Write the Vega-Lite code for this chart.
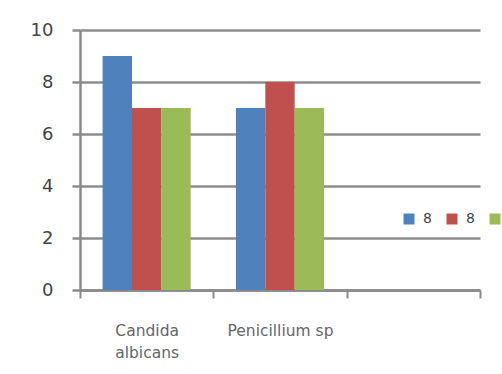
{
  "$schema": "https://vega.github.io/schema/vega-lite/v6.json",
  "width": 400,
  "height": 260,
  "autosize": {"type": "none"},
  "padding": {"left": 80, "top": 30, "right": 22, "bottom": 84},
  "background": "white",
  "data": {"values": [
    {"organism": "Candida albicans", "series": "s1", "value": 9},
    {"organism": "Candida albicans", "series": "s2", "value": 7},
    {"organism": "Candida albicans", "series": "s3", "value": 7},
    {"organism": "Penicillium sp", "series": "s1", "value": 7},
    {"organism": "Penicillium sp", "series": "s2", "value": 8},
    {"organism": "Penicillium sp", "series": "s3", "value": 7}
  ]},
  "mark": {"type": "bar"},
  "encoding": {
    "x": {
      "field": "organism", "type": "nominal",
      "scale": {"domain": ["Candida albicans", "Penicillium sp", "x3"], "paddingInner": 0, "paddingOuter": 0},
      "axis": {
        "title": null, "labelAngle": 0, "tickBand": "extent", "grid": false,
        "domainColor": "#8a8a8a", "domainWidth": 2.5,
        "tickColor": "#8a8a8a", "tickWidth": 2, "tickSize": 8,
        "labelPadding": 25, "labelFontSize": 15.5, "labelColor": "#666666",
        "labelFont": "DejaVu Sans", "labelLineHeight": 22, "labelBaseline": "top",
        "labelExpr": "datum.value == 'Candida albicans' ? ['Candida', 'albicans'] : datum.value == 'x3' ? '' : datum.value"
      }
    },
    "xOffset": {"field": "series", "type": "nominal", "scale": {"paddingOuter": 0.77, "paddingInner": 0}},
    "y": {
      "field": "value", "type": "quantitative",
      "scale": {"domain": [0, 10], "nice": false},
      "axis": {
        "title": null, "values": [0, 2, 4, 6, 8, 10], "grid": true,
        "gridColor": "#8c8c8c", "gridWidth": 2.5,
        "domainColor": "#8a8a8a", "domainWidth": 2.5,
        "tickColor": "#8a8a8a", "tickWidth": 2.5, "tickSize": 8,
        "labelFontSize": 18, "labelPadding": 19, "labelColor": "#444444",
        "labelFont": "DejaVu Sans"
      }
    },
    "color": {
      "field": "series", "type": "nominal",
      "scale": {"domain": ["s1", "s2", "s3"], "range": ["#4F81BD", "#C0504D", "#9BBB59"]},
      "legend": {
        "title": null, "orient": "none", "legendX": 322, "legendY": 182,
        "direction": "horizontal", "symbolType": "square", "symbolSize": 121,
        "symbolStrokeWidth": 0, "labelFontSize": 14, "labelFont": "DejaVu Sans",
        "labelColor": "#444444", "labelExpr": "'8'", "labelOffset": 7, "columnPadding": 13
      }
    }
  },
  "config": {"view": {"stroke": null}}
}
